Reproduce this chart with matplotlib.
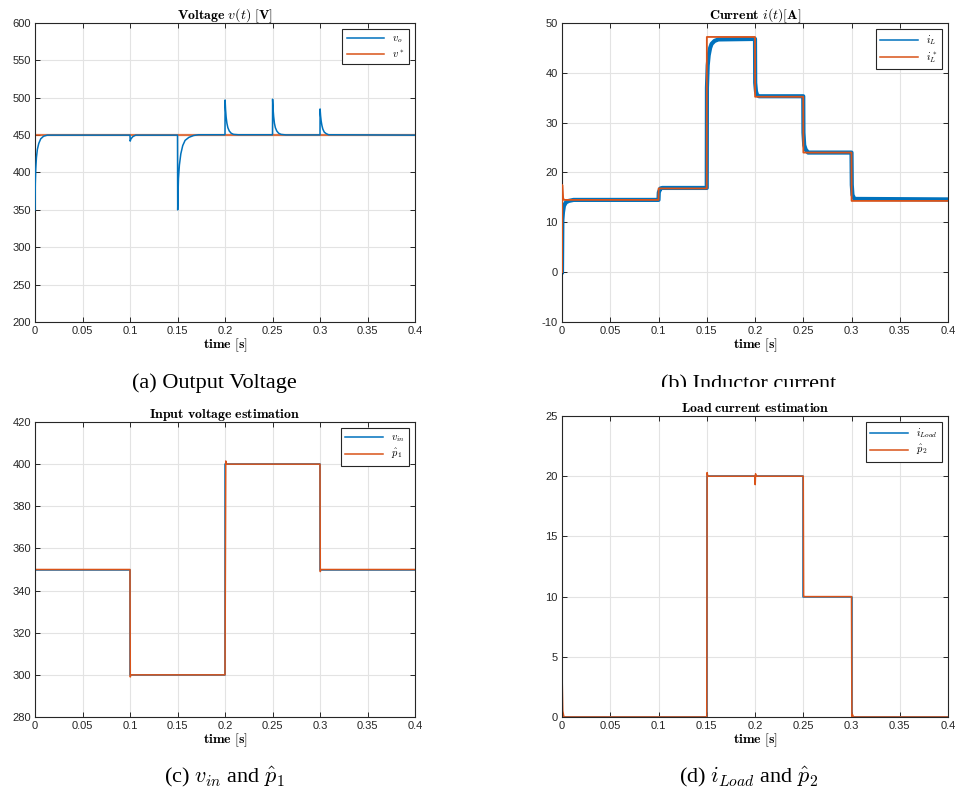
import numpy as np
import matplotlib.pyplot as plt
from matplotlib.patches import Rectangle
from matplotlib.lines import Line2D

plt.rcParams['mathtext.fontset'] = 'cm'
plt.rcParams['axes.unicode_minus'] = False
plt.rcParams['font.family'] = ['Liberation Sans', 'DejaVu Sans']

BLUE = '#0072BD'
ORANGE = '#D95319'

# (a) output voltage
t_vo = [0, 0.0003, 0.0008, 0.0015, 0.0025, 0.004, 0.006, 0.009, 0.013,
        0.1, 0.1002, 0.101, 0.103, 0.106,
        0.15, 0.1502, 0.1506, 0.151, 0.152, 0.1535, 0.1555, 0.158, 0.162, 0.167, 0.172,
        0.2, 0.2001, 0.2006, 0.2012, 0.202, 0.203, 0.2045, 0.2065, 0.209, 0.214,
        0.25, 0.2501, 0.2506, 0.2512, 0.252, 0.253, 0.2545, 0.2565, 0.259, 0.264,
        0.3, 0.3001, 0.3006, 0.3012, 0.302, 0.303, 0.3045, 0.3065, 0.309, 0.4]
v_o = [350, 385, 405, 420, 431, 439, 445, 448.5, 450,
       450, 442, 445, 448, 450,
       450, 350, 372, 392, 410, 425, 436, 443, 447, 449.5, 450.5,
       450.5, 497, 484, 474, 466, 460, 455.5, 452.5, 451, 450.5,
       450.5, 498, 485, 475, 466, 460, 455.5, 452.5, 451, 450.3,
       450.3, 485, 476, 469, 463, 458, 454, 452, 450.5, 450]
t_vref = [0, 0.4]
v_ref = [450, 450]

# (b) inductor current
t_il = [0, 0.0004, 0.001, 0.002, 0.004, 0.007, 0.012, 0.1, 0.1003, 0.102, 0.104,
        0.15, 0.1502, 0.151, 0.152, 0.1535, 0.155, 0.158, 0.162,
        0.2, 0.2002, 0.201, 0.202, 0.204,
        0.25, 0.2502, 0.251, 0.2525, 0.255,
        0.3, 0.3003, 0.301, 0.303, 0.4]
i_l = [0, 10.5, 12, 13.3, 14.0, 14.3, 14.5, 14.5, 16.0, 16.8, 16.9,
       16.9, 37, 41.5, 43.5, 45, 45.8, 46.4, 46.7,
       46.8, 38, 36.3, 35.6, 35.3,
       35.3, 28, 25.5, 24.6, 24.0,
       24.0, 17.5, 15.5, 14.7, 14.6]
t_ilref = [0, 0.0003, 0.001, 0.002, 0.1, 0.1001, 0.15, 0.1501,
           0.2, 0.2001, 0.25, 0.2501, 0.3, 0.3001, 0.4]
i_lref = [0, 17.5, 15, 14.5, 14.5, 16.8, 16.8, 47.2,
          47.2, 35.2, 35.2, 24.0, 24.0, 14.3, 14.3]

# (c) input voltage estimation
t_vin = [0, 0.1, 0.1, 0.2, 0.2, 0.3, 0.3, 0.4]
v_in = [350, 350, 300, 300, 400, 400, 350, 350]
t_p1 = [0, 0.1, 0.1003, 0.1008, 0.2, 0.2008, 0.2015, 0.3, 0.3003, 0.3008, 0.4]
p1 = [350, 350, 299, 300, 300, 401.5, 400, 400, 349, 350, 350]

# (d) load current estimation
t_iload = [0, 0.15, 0.15, 0.25, 0.25, 0.3, 0.3, 0.4]
i_load = [0, 0, 20, 20, 10, 10, 0, 0]
t_p2 = [0, 0.0002, 0.0008, 0.002, 0.15, 0.1504, 0.151, 0.153,
        0.2, 0.2002, 0.2006, 0.201, 0.25, 0.2504, 0.251,
        0.3, 0.3004, 0.301, 0.302, 0.4]
p2 = [0, 3, 0.5, 0, 0, 20.3, 20.0, 20.0,
      20.0, 19.3, 20.2, 20.0, 20.0, 10.0, 10.0,
      10.0, 0, 0.2, 0, 0]

W, H = 956, 798
fig = plt.figure(figsize=(W / 100, H / 100), dpi=100)


def rect(l, r, t, b):
    return [l / W, 1 - b / H, (r - l) / W, (b - t) / H]


def style(ax, ylim, yticks, title):
    ax.set_xlim(0, 0.4)
    ax.set_ylim(*ylim)
    ax.set_xticks(np.arange(0, 0.41, 0.05))
    ax.set_xticklabels(['0', '0.05', '0.1', '0.15', '0.2', '0.25', '0.3', '0.35', '0.4'])
    ax.set_yticks(yticks)
    ax.grid(True, color='#e3e3e3', lw=0.8)
    ax.set_axisbelow(True)
    ax.tick_params(direction='in', length=3.5, top=True, right=True,
                   labelsize=8, colors='#262626', width=0.7, pad=3)
    for s in ax.spines.values():
        s.set_color('#262626')
        s.set_linewidth(0.8)
    ax.set_title(title, fontsize=10, pad=3)
    ax.set_xlabel(r'$\mathbf{time\ [s]}$', fontsize=10, labelpad=0)


def legend(ax, labels):
    handles = [Line2D([], [], color=BLUE, lw=1.1), Line2D([], [], color=ORANGE, lw=1.1)]
    leg = ax.legend(handles, labels, loc='upper right', fontsize=7.5, handlelength=3.6,
                    fancybox=False, framealpha=1, edgecolor='#262626',
                    borderaxespad=0.6, labelspacing=0.3, borderpad=0.4)
    leg.get_frame().set_linewidth(0.8)


# (a)
ax1 = fig.add_axes(rect(35, 415, 23, 322))
ax1.plot(t_vo, v_o, color=BLUE, lw=1.1, zorder=3)
ax1.plot(t_vref, v_ref, color=ORANGE, lw=1.6, alpha=0.8, zorder=2)
style(ax1, (200, 600), np.arange(200, 601, 50), r'$\mathbf{Voltage}\ v(t)\ \mathbf{[V]}$')
legend(ax1, [r'$v_o$', r'$v^*$'])

# (b)
ax2 = fig.add_axes(rect(562, 948, 23, 322))
ax2.plot(t_il, i_l, color=BLUE, lw=3.0, zorder=2)
ax2.plot(t_ilref, i_lref, color=ORANGE, lw=1.3, zorder=3)
style(ax2, (-10, 50), np.arange(-10, 51, 10), r'$\mathbf{Current}\ i(t)\mathbf{[A]}$')
legend(ax2, [r'$i_L$', r'$i_L^*$'])

# (c)
ax3 = fig.add_axes(rect(35, 415, 422, 717))
ax3.plot(t_vin, v_in, color=BLUE, lw=1.1)
ax3.plot(t_p1, p1, color=ORANGE, lw=1.1)
style(ax3, (280, 420), np.arange(280, 421, 20), r'$\mathbf{Input\ voltage\ estimation}$')
legend(ax3, [r'$v_{in}$', r'$\hat{p}_1$'])

# (d)
ax4 = fig.add_axes(rect(562, 948, 416, 717))
ax4.plot(t_iload, i_load, color=BLUE, lw=1.1)
ax4.plot(t_p2, p2, color=ORANGE, lw=1.1)
style(ax4, (0, 25), np.arange(0, 26, 5), r'$\mathbf{Load\ current\ estimation}$')
legend(ax4, [r'$i_{Load}$', r'$\hat{p}_2$'])

# captions
cap = dict(ha='center', va='center', fontsize=16, family='Liberation Serif')
fig.text(214 / W, 1 - 383 / H, '(a) Output Voltage', **cap)
fig.text(749 / W, 1 - 385 / H, '(b) Inductor current', **cap)
fig.text(225 / W, 1 - 777 / H, r'(c) $v_{in}$ and $\hat{p}_1$', **cap)
fig.text(749 / W, 1 - 777 / H, r'(d) $i_{Load}$ and $\hat{p}_2$', **cap)

# the lower subfigure covers the bottom of caption (b)
fig.patches.append(Rectangle((560 / W, 1 - 398 / H), 320 / W, 11 / H,
                             transform=fig.transFigure, facecolor='white',
                             edgecolor='none', zorder=10))

fig.savefig('out.png', dpi=100)
